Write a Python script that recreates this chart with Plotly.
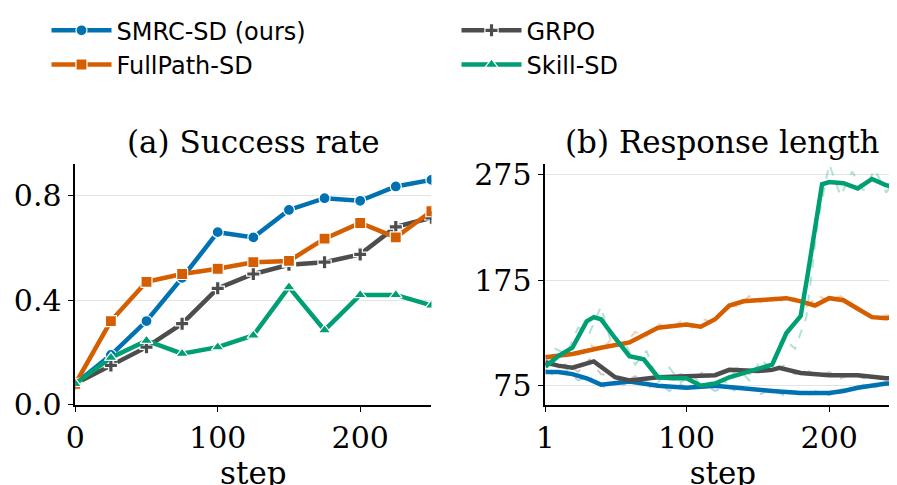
import plotly.graph_objects as go

# (a) success rate, every 25 steps
steps_a = [0, 25, 50, 75, 100, 125, 150, 175, 200, 225, 250]
smrc_a = [0.08, 0.19, 0.32, 0.485, 0.66, 0.64, 0.745, 0.79, 0.78, 0.835, 0.86]
fullpath_a = [0.08, 0.32, 0.47, 0.50, 0.52, 0.545, 0.55, 0.635, 0.695, 0.64, 0.74]
grpo_a = [0.08, 0.15, 0.22, 0.31, 0.445, 0.50, 0.535, 0.545, 0.575, 0.68, 0.715]
skill_a = [0.08, 0.18, 0.245, 0.195, 0.22, 0.265, 0.45, 0.285, 0.42, 0.42, 0.38]

# (b) response length, smoothed
smrc_steps = [1, 10, 20, 30, 40, 50, 60, 80, 100, 120, 140, 160, 180, 200, 210, 220, 240, 250]
smrc_b = [88, 88, 86, 82, 76, 77, 79, 75, 73, 75, 72, 70, 68, 68, 70, 73, 77, 77]
full_steps = [1, 20, 40, 60, 80, 100, 110, 120, 130, 140, 160, 170, 180, 190, 200, 210, 220, 230, 240, 250]
fullpath_b = [102, 105, 111, 116, 130, 133, 131, 138, 151, 155, 157, 158, 155, 151, 158, 156, 148, 140, 139, 141]
grpo_steps = [1, 10, 20, 35, 50, 60, 80, 100, 120, 130, 150, 160, 165, 180, 200, 220, 240, 250]
grpo_b = [97, 94, 92, 98, 83, 80, 83, 84, 85, 90, 89, 90, 92, 87, 85, 85, 82, 82]
skill_steps = [1, 10, 20, 30, 35, 40, 50, 60, 70, 80, 90, 100, 110, 120, 130, 140, 150, 160,
               170, 180, 185, 190, 195, 200, 210, 220, 230, 240, 250]
skill_b = [93, 103, 111, 136, 140, 138, 120, 103, 100, 83, 82, 82, 75, 77, 83, 87, 91, 95,
           125, 141, 181, 221, 266, 268, 267, 262, 271, 265, 263]

# (b) raw (unsmoothed) readings
raw_steps = [1, 8, 16, 24, 32, 40, 48, 56, 64, 72, 80, 88, 96, 104, 112, 120, 128, 136, 144,
             152, 160, 168, 176, 184, 192, 200, 208, 216, 224, 232, 240, 248]
smrc_raw = [90, 84, 90, 80, 84, 72, 80, 76, 81, 72, 78, 70, 76, 71, 77, 70, 74, 69, 73,
            67, 72, 66, 70, 65, 71, 66, 72, 70, 76, 73, 79, 76]
fullpath_raw = [104, 100, 108, 104, 114, 108, 120, 113, 126, 122, 134, 128, 136, 130, 138, 134, 152, 150,
                160, 154, 160, 155, 158, 150, 160, 156, 160, 150, 146, 138, 142, 138]
grpo_raw = [100, 90, 96, 88, 100, 86, 84, 78, 84, 80, 86, 82, 86, 82, 88, 84, 88, 92, 86,
            92, 88, 94, 86, 90, 84, 88, 82, 86, 82, 84, 80, 84]
skill_raw = [95, 110, 105, 130, 125, 150, 112, 118, 95, 108, 78, 92, 78, 86, 72, 82, 78, 92, 80,
             100, 90, 120, 110, 140, 230, 285, 255, 278, 260, 280, 258, 275]

names = ["SMRC-SD (ours)", "GRPO", "FullPath-SD", "Skill-SD"]
colors = ["#0072B2", "#4D4D4D", "#D55E00", "#009E73"]
symbols = ["circle", "cross", "square", "triangle-up"]
faint = ["rgba(0,114,178,0.3)", "rgba(77,77,77,0.3)", "rgba(213,94,0,0.3)", "rgba(0,158,115,0.3)"]

series_a = [smrc_a, grpo_a, fullpath_a, skill_a]
series_b = [(smrc_steps, smrc_b), (grpo_steps, grpo_b), (full_steps, fullpath_b), (skill_steps, skill_b)]
raws = [smrc_raw, grpo_raw, fullpath_raw, skill_raw]

fig = go.Figure()

for i in range(4):
    fig.add_trace(go.Scatter(
        x=steps_a, y=series_a[i], name=names[i], mode="lines+markers",
        line=dict(color=colors[i], width=4.5),
        marker=dict(symbol=symbols[i], size=11, color=colors[i], line=dict(color="white", width=1.2)),
        xaxis="x", yaxis="y"))

for i in range(4):
    fig.add_trace(go.Scatter(
        x=raw_steps, y=raws[i], mode="lines", showlegend=False,
        line=dict(color=faint[i], width=2, dash="dash"), xaxis="x2", yaxis="y2"))
for i in range(4):
    xs, ys = series_b[i]
    fig.add_trace(go.Scatter(
        x=xs, y=ys, mode="lines", showlegend=False,
        line=dict(color=colors[i], width=4.5), xaxis="x2", yaxis="y2"))

serif = "DejaVu Serif"
ax = dict(showline=True, linecolor="black", linewidth=1.5, ticks="outside", ticklen=6,
          tickcolor="black", tickfont=dict(family=serif, size=30, color="black"), zeroline=False,
          automargin=False)

fig.update_layout(
    width=897, height=485, plot_bgcolor="white", paper_bgcolor="white",
    margin=dict(l=0, r=0, t=0, b=0),
    xaxis=dict(ax, domain=[0.075, 0.472], range=[0, 250], tickvals=[0, 100, 200], showgrid=False,
               title=dict(text="step", font=dict(family=serif, size=31, color="black"), standoff=2)),
    yaxis=dict(ax, domain=[0.184, 0.685], range=[0, 0.92], tickvals=[0, 0.4, 0.8], tickformat=".1f",
               showgrid=True, gridcolor="#e3e3e3"),
    xaxis2=dict(ax, domain=[0.599, 0.995], range=[1, 250], tickvals=[1, 100, 200], showgrid=False,
                anchor="y2",
                title=dict(text="step", font=dict(family=serif, size=31, color="black"), standoff=2)),
    yaxis2=dict(ax, domain=[0.184, 0.685], range=[57, 285], tickvals=[75, 175, 275], anchor="x2",
                showgrid=True, gridcolor="#e3e3e3"),
    legend=dict(orientation="h", x=0.5, xanchor="center", y=1.01, yanchor="top",
                entrywidth=335, font=dict(family="DejaVu Sans", size=24, color="black"),
                itemwidth=60, tracegroupgap=0),
    annotations=[
        dict(text="(a) Success rate", x=0.2735, y=0.69, xref="paper", yref="paper",
             xanchor="center", yanchor="bottom", showarrow=False,
             font=dict(family=serif, size=31, color="black")),
        dict(text="(b) Response length", x=0.797, y=0.69, xref="paper", yref="paper",
             xanchor="center", yanchor="bottom", showarrow=False,
             font=dict(family=serif, size=31, color="black")),
    ],
)

fig.write_html("out.html")
